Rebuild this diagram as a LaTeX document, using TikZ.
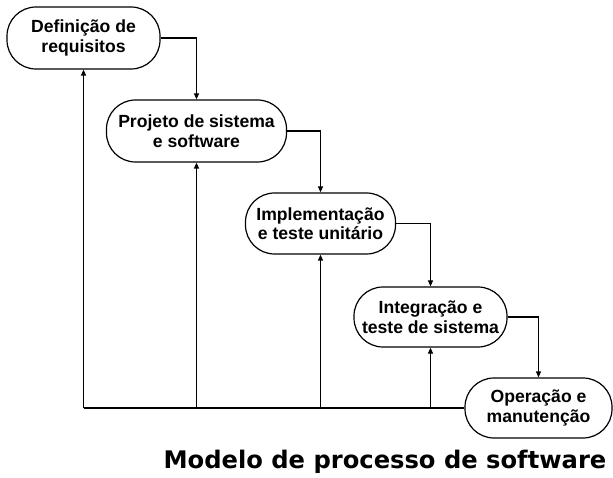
\documentclass[tikz,border=0pt]{standalone}
\usepackage{fontspec}
\setmainfont{Liberation Sans}
\newfontfamily\titlefont{DejaVu Sans}
\usetikzlibrary{arrows.meta}
\begin{document}
\begin{tikzpicture}[x=1pt,y=1pt,
  phase/.style={draw, line width=1.2pt, rounded corners=29pt, align=center,
    font=\fontsize{17.6}{19.5}\selectfont\bfseries, inner sep=0pt},
  conn/.style={line width=1.2pt},
  arr/.style={line width=1.2pt, -{Triangle[length=6pt,width=5pt]}}]
\useasboundingbox (0,0) rectangle (613,477);
\node[phase, minimum width=153pt, minimum height=62pt] (b1) at (83.5,439) {Definição de\\requisitos};
\node[phase, minimum width=180pt, minimum height=62pt] (b2) at (196.5,346) {Projeto de sistema\\e software};
\node[phase, minimum width=150pt, minimum height=61pt] (b3) at (320.5,253.5) {Implementação\\e teste unitário};
\node[phase, minimum width=153pt, minimum height=60pt] (b4) at (430.5,160) {Integração e\\teste de sistema};
\node[phase, minimum width=147pt, minimum height=60pt] (b5) at (538.5,69) {Operação e\\manutenção};
\draw[arr] (b1.east) -| (b2.north);
\draw[arr] (b2.east) -| (b3.north);
\draw[arr] (b3.east) -| (b4.north);
\draw[arr] (b4.east) -| (b5.north);
\coordinate (c1) at (b1.south |- b5.west);
\coordinate (c2) at (b2.south |- b5.west);
\coordinate (c3) at (b3.south |- b5.west);
\coordinate (c4) at (b4.south |- b5.west);
\draw[conn] (b5.west) -- (c1);
\draw[arr] (c1) -- (b1.south);
\draw[arr] (c2) -- (b2.south);
\draw[arr] (c3) -- (b3.south);
\draw[arr] (c4) -- (b4.south);
\node[font=\titlefont\fontsize{24.2}{28}\selectfont\bfseries, anchor=base] (title) at (385,9) {Modelo de processo de software};
\end{tikzpicture}
\end{document}
